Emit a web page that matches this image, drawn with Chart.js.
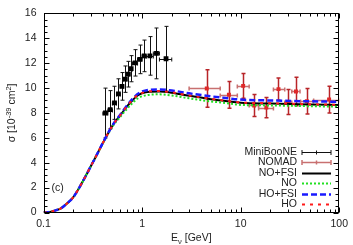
<!DOCTYPE html>
<html><head><meta charset="utf-8">
<script src="https://cdn.jsdelivr.net/npm/chart.js@4"></script>
<style>html,body{margin:0;padding:0;background:#fff}canvas{display:block}</style>
</head><body>
<canvas id="c" width="353" height="245" style="width:353px;height:245px"></canvas>
<script>
// ---- MiniBooNE data ----
const mbE     = [0.425,0.475,0.525,0.575,0.625,0.675,0.725,0.775,0.85,0.95,1.05,1.2,1.4,1.75];
const mbSigma = [7.99,8.26,8.81,9.53,10.13,10.71,11.11,11.55,12.02,12.30,12.58,12.58,12.78,12.35];
const mbErr   = [2.00,1.53,1.33,1.21,1.11,1.06,1.03,1.05,1.06,1.15,1.27,1.55,2.04,2.60];
const mbElo   = [0.4,0.45,0.5,0.55,0.6,0.65,0.7,0.75,0.8,0.9,1.0,1.1,1.3,1.5];
const mbEhi   = [0.45,0.5,0.55,0.6,0.65,0.7,0.75,0.8,0.9,1.0,1.1,1.3,1.5,2.0];
// ---- NOMAD data ----
const nomadE     = [4.53,7.6,10.6,13.7,18.2,24.2,30.5,36.4,46.9,78.9];
const nomadSigma = [9.96,9.45,10.17,8.60,8.43,9.91,8.87,9.72,8.94,9.07];
const nomadErr   = [1.50,1.08,1.00,0.88,0.81,0.90,1.00,1.15,1.02,1.08];
const nomadElo   = [3.0,6.2,9.25,12.2,15.2,21.5,28,33,40.5,55];
const nomadEhi   = [6.2,9.25,12.2,15.2,21.5,28,33,40,54.6,100];
// ---- theory curves ----
const theoryE = [0.1,0.11,0.12,0.135,0.15,0.175,0.2,0.25,0.3,0.35,0.4,0.5,0.6,0.7,0.8,0.9,1.0,1.2,1.5,2,3,5,7,10,20,50,100];
const noFsi   = [0,0.02,0.07,0.19,0.33,0.76,1.21,2.49,3.67,4.69,5.58,6.97,7.80,8.50,9.02,9.40,9.58,9.70,9.72,9.62,9.37,9.10,8.96,8.82,8.75,8.68,8.63];
const noRpa   = [0,0.02,0.07,0.19,0.33,0.76,1.21,2.49,3.67,4.68,5.55,6.88,7.68,8.30,8.80,9.16,9.33,9.46,9.49,9.40,9.17,8.92,8.80,8.64,8.60,8.54,8.50];
const hoFsi   = [0,0.02,0.07,0.19,0.33,0.76,1.21,2.49,3.67,4.69,5.59,6.99,7.85,8.58,9.12,9.52,9.72,9.86,9.88,9.80,9.57,9.33,9.20,9.07,9.00,8.93,8.89];
const hoRpa   = [0,0.02,0.07,0.19,0.33,0.76,1.21,2.49,3.67,4.69,5.58,6.97,7.81,8.52,9.05,9.43,9.60,9.73,9.75,9.65,9.40,9.13,8.98,8.84,8.78,8.70,8.65];
const xTickVals = [0.1,1,10,100];
const xTickLabels = ['0.1','1','10','100'];
const yTickVals = [0,2,4,6,8,10,12,14,16];

const FONT = '"Liberation Sans", Arial, sans-serif';
const pts = (xs, ys) => xs.map((e,i)=>({x:e, y:ys[i]}));

const errorBars = {
  id:'errorBars',
  beforeDatasetsDraw(chart){
    const {ctx, chartArea:a, scales:{x,y}} = chart;
    ctx.save();
    ctx.beginPath(); ctx.rect(a.left,a.top,a.right-a.left,a.bottom-a.top); ctx.clip();
    const seg=(x1,y1,x2,y2)=>{ctx.beginPath();ctx.moveTo(x1,y1);ctx.lineTo(x2,y2);ctx.stroke();};
    chart.data.datasets.forEach(ds=>{
      if(!ds.errY) return;
      ds.data.forEach((p,i)=>{
        const px=Math.round(x.getPixelForValue(p.x))+0.5, py=Math.round(y.getPixelForValue(p.y))+0.5;
        const y1=y.getPixelForValue(p.y-ds.errY[i]), y2=y.getPixelForValue(p.y+ds.errY[i]);
        const x1=x.getPixelForValue(ds.xLo[i]), x2=x.getPixelForValue(ds.xHi[i]);
        ctx.strokeStyle=ds.hColor; ctx.lineWidth=ds.hWidth;
        seg(x1,py,x2,py); seg(x1,py-2,x1,py+2); seg(x2,py-2,x2,py+2);
        ctx.strokeStyle=ds.vColor; ctx.lineWidth=ds.vWidth;
        seg(px,y1,px,y2); seg(px-2,y1,px+2,y1); seg(px-2,y2,px+2,y2);
      });
    });
    ctx.restore();
  }
};

const decor = {
  id:'decor',
  afterDraw(chart){
    const {ctx, chartArea:a, scales:{x,y}} = chart;
    ctx.save();
    ctx.strokeStyle='#000'; ctx.lineWidth=1;
    const L=Math.round(a.left)+0.5, R=Math.round(a.right)-0.5, T=Math.round(a.top)+0.5, B=Math.round(a.bottom)-0.5;
    ctx.strokeRect(L,T,R-L,B-T);
    const seg=(x1,y1,x2,y2)=>{ctx.beginPath();ctx.moveTo(x1,y1);ctx.lineTo(x2,y2);ctx.stroke();};
    // y ticks
    for(let v=0; v<=16.001; v+=0.5){
      const py=Math.round(y.getPixelForValue(v))+0.5;
      const len = (Math.abs(v/2-Math.round(v/2))<1e-6)?5:3;
      seg(L,py,L+len,py); seg(R,py,R-len,py);
    }
    // x ticks
    for(let k=-1;k<=2;k++){
      for(let m=1;m<=9;m++){
        const v=m*Math.pow(10,k); if(v>100.0001) break;
        const px=Math.round(x.getPixelForValue(v))+0.5;
        const len=(m===1)?5:3;
        seg(px,B,px,B-len); seg(px,T,px,T+len);
      }
    }
    // (c) label
    ctx.fillStyle='#222'; ctx.font='10.5px '+FONT; ctx.textBaseline='middle'; ctx.textAlign='left';
    ctx.fillText('(c)', a.left+8, 188);
    // x title
    const big='10.5px '+FONT, small='7.5px '+FONT;
    const parts=[['E',big,0],['\u03bd',small,3],[' [GeV]',big,0]];
    const draw=(parts,cx,cy)=>{
      let w=0; parts.forEach(p=>{ctx.font=p[1]; w+=ctx.measureText(p[0]).width;});
      let xx=cx-w/2;
      ctx.textAlign='left'; ctx.textBaseline='alphabetic';
      parts.forEach(p=>{ctx.font=p[1]; ctx.fillText(p[0],xx,cy+p[2]); xx+=ctx.measureText(p[0]).width;});
    };
    draw(parts,(a.left+a.right)/2,241);
    // y title
    ctx.save();
    ctx.translate(15,(a.top+a.bottom)/2); ctx.rotate(-Math.PI/2);
    draw([['\u03c3 [10',big,0],['-39',small,-4],[' cm',big,0],['2',small,-4],[']',big,0]],0,0);
    ctx.restore();
    // legend
    const rows=chart.data.datasets.slice().sort((p,q)=>p.legendRank-q.legendRank);
    const tx=297, sx1=302, sx2=331;
    rows.forEach((ds,i)=>{
      const ry=Math.round(151.5+i*10.5)+0.5;
      ctx.font=big; ctx.fillStyle='#222'; ctx.textAlign='right'; ctx.textBaseline='middle';
      ctx.fillText(ds.label,tx,ry);
      ctx.save();
      if(ds.errY){
        ctx.strokeStyle=ds.hColor; ctx.lineWidth=ds.hWidth;
        seg(sx1,ry,sx2,ry); seg(sx1,ry-2.5,sx1,ry+2.5); seg(sx2,ry-2.5,sx2,ry+2.5);
        seg((sx1+sx2)/2,ry-2,(sx1+sx2)/2,ry+2);
      } else {
        ctx.strokeStyle=ds.borderColor; ctx.lineWidth=ds.borderWidth;
        ctx.setLineDash(ds.borderDash||[]);
        seg(sx1,ry,sx2,ry);
      }
      ctx.restore();
    });
    ctx.restore();
  }
};

new Chart(document.getElementById('c'), {
  type:'line',
  data:{ datasets:[
    {label:'HO', data:pts(theoryE,hoRpa), borderColor:'#ff1a1a', borderWidth:2, borderDash:[3,5], pointRadius:0, order:1, legendRank:6, cubicInterpolationMode:'monotone'},
    {label:'HO+FSI', data:pts(theoryE,hoFsi), borderColor:'#1a1aff', borderWidth:2.5, borderDash:[6,3], pointRadius:0, order:2, legendRank:5, cubicInterpolationMode:'monotone'},
    {label:'NO', data:pts(theoryE,noRpa), borderColor:'#22e022', borderWidth:2, borderDash:[2,2], pointRadius:0, order:3, legendRank:4, cubicInterpolationMode:'monotone'},
    {label:'NO+FSI', data:pts(theoryE,noFsi), borderColor:'#000000', borderWidth:2, pointRadius:0, order:4, legendRank:3, cubicInterpolationMode:'monotone'},
    {label:'NOMAD', data:pts(nomadE,nomadSigma), showLine:false, pointStyle:'rect', pointRadius:2.8,
      backgroundColor:'#e02828', borderColor:'#e02828', borderWidth:0, order:5, legendRank:2,
      errY:nomadErr, xLo:nomadElo, xHi:nomadEhi, vColor:'#b82428', vWidth:1.5, hColor:'#c87070', hWidth:1.5},
    {label:'MiniBooNE', data:pts(mbE,mbSigma), showLine:false, pointStyle:'rect', pointRadius:3.4,
      backgroundColor:'#000', borderColor:'#000', borderWidth:0, order:6, legendRank:1,
      errY:mbErr, xLo:mbElo, xHi:mbEhi, vColor:'#111', vWidth:1, hColor:'#111', hWidth:1}
  ]},
  options:{
    responsive:false, animation:false, devicePixelRatio:1,
    layout:{padding:{left:0,right:10,top:4,bottom:0}},
    plugins:{legend:{display:false}, tooltip:{enabled:false}},
    scales:{
      x:{type:'logarithmic', min:0.1, max:100,
        grid:{display:false, drawTicks:false}, border:{display:false},
        afterBuildTicks(s){ s.ticks = xTickVals.map(v=>({value:v, major:true})); },
        afterFit(s){ s.height = 32.5; },
        ticks:{padding:5, color:'#222', font:{family:FONT,size:10.5}, autoSkip:false, maxRotation:0,
          callback(v){ const i=xTickVals.indexOf(v); return i>=0?xTickLabels[i]:''; }}
      },
      y:{min:0, max:16,
        grid:{display:false, drawTicks:false}, border:{display:false},
        afterBuildTicks(s){ s.ticks = yTickVals.map(v=>({value:v})); },
        afterFit(s){ s.width = 43.5; },
        ticks:{padding:7, color:'#222', font:{family:FONT,size:10.5}, callback(v){ return String(v); }}
      }
    }
  },
  plugins:[errorBars, decor]
});
</script>
</body></html>
